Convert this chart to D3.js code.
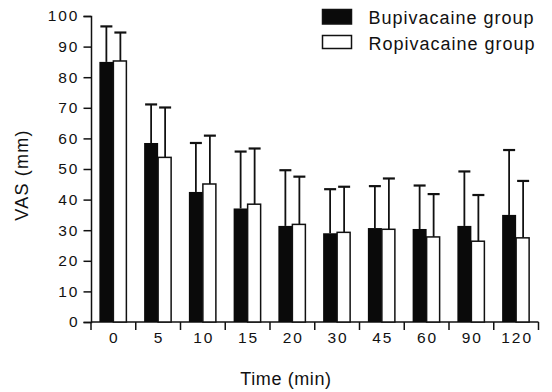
<!DOCTYPE html>
<html>
<head>
<meta charset="utf-8">
<script src="https://cdn.jsdelivr.net/npm/d3@7"></script>
<style>
  body { margin: 0; background: #fff; }
  svg text { font-family: "Liberation Sans", Arial, sans-serif; fill: #111; }
</style>
</head>
<body>
<div id="chart"></div>
<script>
// data
var times = ["0", "5", "10", "15", "20", "30", "45", "60", "90", "120"];
var bupiMean = [85.0, 58.5, 42.5, 37.1, 31.4, 29.0, 30.7, 30.4, 31.4, 35.0];
var bupiUpper = [96.6, 71.1, 58.5, 55.7, 49.6, 43.4, 44.4, 44.6, 49.2, 56.2];
var ropiMean = [85.3, 53.8, 45.1, 38.5, 31.9, 29.3, 30.3, 27.8, 26.4, 27.5];
var ropiUpper = [94.6, 70.1, 60.9, 56.7, 47.5, 44.2, 46.9, 41.8, 41.5, 46.1];
var yTicks = [0, 10, 20, 30, 40, 50, 60, 70, 80, 90, 100];
var groups = ["Bupivacaine group", "Ropivacaine group"];

var width = 552, height = 392;

var svg = d3.select("#chart").append("svg")
    .attr("width", width)
    .attr("height", height);

var x = d3.scaleBand()
    .domain(times)
    .range([91, 538.5]);

var y = d3.scaleLinear()
    .domain([0, 100])
    .range([322, 16]);

var barW = 14;
var groupOff = (x.bandwidth() - 2 * barW) / 2;

// y axis
var yAxis = svg.append("g")
    .attr("transform", "translate(91,0)")
    .call(d3.axisLeft(y).tickValues(yTicks).tickSize(7.5).tickPadding(6));
yAxis.select(".domain").attr("stroke", "#111").attr("stroke-width", 1.5);
yAxis.selectAll(".tick line").attr("stroke", "#111").attr("stroke-width", 1.5);
yAxis.selectAll(".tick text")
    .style("font-size", "15.5px")
    .style("letter-spacing", "2px")
    .attr("dx", "2px");

// x axis line + ticks at band boundaries
svg.append("line")
    .attr("x1", 91).attr("x2", x.range()[1])
    .attr("y1", y(0)).attr("y2", y(0))
    .attr("stroke", "#111").attr("stroke-width", 1.5);

var bounds = times.map(function(d) { return x(d); }).concat([x.range()[1]]);
svg.selectAll(".xtick")
    .data(bounds)
    .enter().append("line")
    .attr("class", "xtick")
    .attr("x1", function(d) { return d; })
    .attr("x2", function(d) { return d; })
    .attr("y1", y(0))
    .attr("y2", y(0) + 8)
    .attr("stroke", "#111").attr("stroke-width", 1.5);

svg.selectAll(".xlabel")
    .data(times)
    .enter().append("text")
    .attr("class", "xlabel")
    .attr("x", function(d) { return x(d) + x.bandwidth() / 2 + 1; })
    .attr("y", 342.5)
    .attr("text-anchor", "middle")
    .style("font-size", "15.5px")
    .style("letter-spacing", "2px")
    .text(function(d) { return d; });

// axis titles
svg.append("text")
    .attr("x", 286)
    .attr("y", 385)
    .attr("text-anchor", "middle")
    .style("font-size", "18px")
    .style("letter-spacing", "0.6px")
    .text("Time (min)");

svg.append("text")
    .attr("transform", "translate(28,175) rotate(-90)")
    .attr("text-anchor", "middle")
    .style("font-size", "18px")
    .style("letter-spacing", "1.2px")
    .text("VAS (mm)");

// error bars (upper only)
function drawErr(means, uppers, off, cls) {
    var g = svg.selectAll("." + cls)
        .data(times)
        .enter().append("g")
        .attr("class", cls);
    g.append("line")
        .attr("x1", function(d) { return x(d) + off + barW / 2; })
        .attr("x2", function(d) { return x(d) + off + barW / 2; })
        .attr("y1", function(d, i) { return y(means[i]); })
        .attr("y2", function(d, i) { return y(uppers[i]); })
        .attr("stroke", "#111").attr("stroke-width", 1.8);
    g.append("line")
        .attr("x1", function(d) { return x(d) + off + barW / 2 - 6; })
        .attr("x2", function(d) { return x(d) + off + barW / 2 + 6; })
        .attr("y1", function(d, i) { return y(uppers[i]); })
        .attr("y2", function(d, i) { return y(uppers[i]); })
        .attr("stroke", "#111").attr("stroke-width", 2.2);
}
drawErr(bupiMean, bupiUpper, groupOff, "errB");
drawErr(ropiMean, ropiUpper, groupOff + barW, "errR");

// bars
svg.selectAll(".barB")
    .data(bupiMean)
    .enter().append("rect")
    .attr("class", "barB")
    .attr("x", function(d, i) { return x(times[i]) + groupOff; })
    .attr("y", function(d) { return y(d); })
    .attr("width", barW)
    .attr("height", function(d) { return y(0) - y(d); })
    .attr("fill", "#0a0a0a");

svg.selectAll(".barR")
    .data(ropiMean)
    .enter().append("rect")
    .attr("class", "barR")
    .attr("x", function(d, i) { return x(times[i]) + groupOff + barW; })
    .attr("y", function(d) { return y(d); })
    .attr("width", barW - 1)
    .attr("height", function(d) { return y(0) - y(d); })
    .attr("fill", "#fff")
    .attr("stroke", "#111")
    .attr("stroke-width", 1.5);

// legend
var legend = svg.append("g");
legend.selectAll("rect")
    .data(groups)
    .enter().append("rect")
    .attr("x", 322.5)
    .attr("y", function(d, i) { return i === 0 ? 9.5 : 35.5; })
    .attr("width", 29)
    .attr("height", function(d, i) { return i === 0 ? 14.5 : 13; })
    .attr("fill", function(d, i) { return i === 0 ? "#0a0a0a" : "#fff"; })
    .attr("stroke", "#111")
    .attr("stroke-width", 1.5);
legend.selectAll("text")
    .data(groups)
    .enter().append("text")
    .attr("x", 368.5)
    .attr("y", function(d, i) { return i === 0 ? 24 : 49.5; })
    .style("font-size", "18px")
    .style("letter-spacing", "1px")
    .text(function(d) { return d; });
</script>
</body>
</html>
